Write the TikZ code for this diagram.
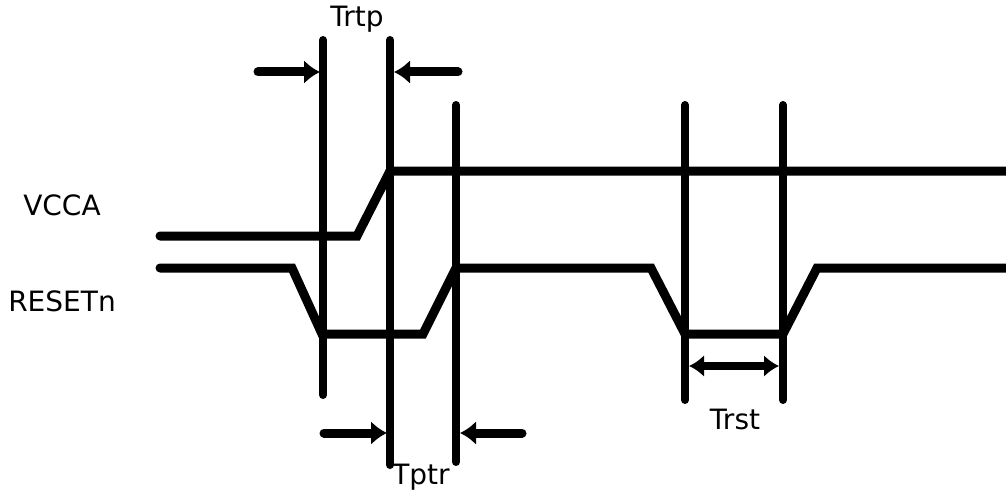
\documentclass[tikz,border=0pt]{standalone}
\usepackage{fontspec}
\setmainfont{DejaVu Sans}
\usetikzlibrary{arrows.meta, positioning}

\tikzset{
  signal/.style={line width=9pt, line cap=round, line join=miter},
  marker/.style={line width=8pt, line cap=round},
  timing/.style={line width=9pt, line cap=round, -{Latex[length=16pt,width=24pt]}},
  label/.style={font=\fontsize{28}{32}\selectfont, inner sep=0pt}
}

\begin{document}
\begin{tikzpicture}[x=1pt, y=-1pt]
\useasboundingbox (0,0) rectangle (1006,500);

% Signal names
\node[label] (vcca) at (62,205) {VCCA};
\node[label] (rst) at (62,301) {RESETn};

% Vertical marker lines
\coordinate (m1t) at (323,40);  \coordinate (m1b) at (323,395);
\coordinate (m2t) at (390,40);  \coordinate (m2b) at (390,465);
\coordinate (m3t) at (456,105); \coordinate (m3b) at (456,462);
\coordinate (m4t) at (685,105); \coordinate (m4b) at (685,400);
\coordinate (m5t) at (783,105); \coordinate (m5b) at (783,400);
\draw[marker] (m1t) -- (m1b);
\draw[marker] (m2t) -- (m2b);
\draw[marker] (m3t) -- (m3b);
\draw[marker] (m4t) -- (m4b);
\draw[marker] (m5t) -- (m5b);

% VCCA waveform
\draw[signal] (160,236) -- (357,236) -- (390,171) -- (1010,171);

% RESETn waveform
\draw[signal] (160,268) -- (292,268) -- (322,334) -- (423,334) -- (456,268)
  -- (651,268) -- (685,334) -- (783,334) -- (817,268) -- (1010,268);

% Trtp
\coordinate (a1) at (258,72);
\coordinate (a2) at (458,72);
\draw[timing] (a1) -- (320,72);
\draw[timing] (a2) -- (394,72);
\node[label] (trtp) at (357,19) {Trtp};

% Tptr
\coordinate (b1) at (324,433);
\coordinate (b2) at (522,433);
\draw[timing] (b1) -- (387,433);
\draw[timing] (b2) -- (460,433);
\node[label] (tptr) at (421,477) {Tptr};

% Trst
\draw[line width=8pt, {Latex[length=15pt,width=22pt]}-{Latex[length=15pt,width=22pt]}] (689,366) -- (779,366);
\node[label] (trst) at (735,419) {Trst};

\end{tikzpicture}
\end{document}
